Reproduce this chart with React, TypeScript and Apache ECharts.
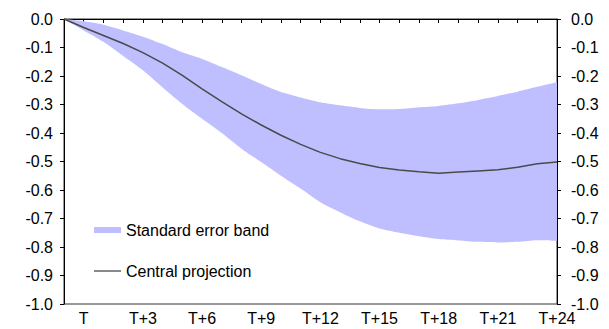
import React, { useEffect, useRef } from "react";
import * as echarts from "echarts";

const categories = [
  "T-1", "T", "T+1", "T+2", "T+3", "T+4", "T+5", "T+6", "T+7", "T+8", "T+9",
  "T+10", "T+11", "T+12", "T+13", "T+14", "T+15", "T+16", "T+17", "T+18",
  "T+19", "T+20", "T+21", "T+22", "T+23", "T+24",
];

const central = [
  0, -0.03, -0.058, -0.086, -0.118, -0.155, -0.198, -0.245, -0.29, -0.333,
  -0.372, -0.408, -0.44, -0.468, -0.49, -0.507, -0.521, -0.53, -0.536, -0.541,
  -0.537, -0.533, -0.529, -0.52, -0.508, -0.502,
];

const upper = [
  0, -0.008, -0.02, -0.04, -0.062, -0.088, -0.117, -0.14, -0.168, -0.197,
  -0.228, -0.256, -0.275, -0.292, -0.303, -0.312, -0.317, -0.316, -0.31,
  -0.305, -0.296, -0.284, -0.27, -0.255, -0.238, -0.222,
];

const lower = [
  0, -0.04, -0.08, -0.13, -0.18, -0.24, -0.298, -0.35, -0.4, -0.455, -0.502,
  -0.55, -0.595, -0.643, -0.678, -0.71, -0.735, -0.75, -0.762, -0.772, -0.777,
  -0.782, -0.784, -0.782, -0.776, -0.778,
];

const FONT = "'Liberation Sans', Arial, sans-serif";
const BAND = "#BFBFFF";
const LINE = "#4a4a4a";

export default function App() {
  const ref = useRef<HTMLDivElement>(null);
  useEffect(() => {
    if (!ref.current) return;
    const chart = echarts.init(ref.current, undefined, { renderer: "svg" });
    const bandDiff = lower.map((v, i) => +(v - upper[i]).toFixed(4));
    const yLabel = (v: number) => {
      const r = Math.round(v * 10) / 10;
      return r === 0 ? "0.0" : r.toFixed(1);
    };
    const yAxisBase = {
      type: "value" as const,
      min: -1,
      max: 0,
      interval: 0.1,
      axisLine: { show: true, lineStyle: { color: "#000", width: 1 } },
      axisTick: { show: true, inside: false, length: 4, lineStyle: { color: "#000" } },
      splitLine: { show: false },
      axisLabel: {
        color: "#000",
        fontSize: 16,
        fontFamily: FONT,
        formatter: yLabel,
      },
    };
    chart.setOption({
      animation: false,
      backgroundColor: "#fff",
      grid: {
        left: 64,
        right: 52,
        top: 19,
        bottom: 25,
        show: true,
        borderColor: "#333",
        borderWidth: 1,
        backgroundColor: "transparent",
      },
      legend: {
        orient: "vertical",
        left: 89,
        top: 217,
        itemWidth: 27,
        itemHeight: 6,
        itemGap: 25,
        textStyle: { color: "#000", fontSize: 16, fontFamily: FONT },
        data: [
          { name: "Standard error band", icon: "rect", itemStyle: { color: BAND } },
          {
            name: "Central projection",
            icon: "path://M0,0H27V1.3H0Z",
            itemStyle: { color: LINE },
          },
        ],
      },
      xAxis: {
        type: "category",
        data: categories,
        boundaryGap: false,
        axisLine: { show: true, lineStyle: { color: "#000", width: 1 } },
        axisTick: {
          show: true,
          inside: false,
          length: 4,
          interval: 0,
          lineStyle: { color: "#000" },
        },
        axisLabel: {
          color: "#000",
          fontSize: 16,
          fontFamily: FONT,
          margin: 6,
          interval: (index: number) => index % 3 === 1,
        },
        splitLine: { show: false },
      },
      yAxis: [
        { ...yAxisBase, position: "left", axisLabel: { ...yAxisBase.axisLabel, margin: 11 } },
        { ...yAxisBase, position: "right", axisLabel: { ...yAxisBase.axisLabel, margin: 14 } },
      ],
      series: [
        {
          name: "upperBase",
          type: "line",
          data: upper,
          stack: "band",
          stackStrategy: "all",
          symbol: "none",
          smooth: 0.25,
          silent: true,
          lineStyle: { opacity: 0, width: 0 },
          z: 1,
        },
        {
          name: "Standard error band",
          type: "line",
          data: bandDiff,
          stack: "band",
          stackStrategy: "all",
          symbol: "none",
          smooth: 0.25,
          silent: true,
          color: BAND,
          itemStyle: { color: BAND },
          lineStyle: { opacity: 0, width: 0 },
          areaStyle: { color: BAND, opacity: 1 },
          z: 1,
        },
        {
          name: "Central projection",
          type: "line",
          data: central,
          symbol: "none",
          color: LINE,
          lineStyle: { color: LINE, width: 1.5 },
          z: 3,
        },
      ],
    });
    return () => chart.dispose();
  }, []);
  return (
    <div
      ref={ref}
      style={{ position: "fixed", left: 0, top: 0, width: 609, height: 329 }}
    />
  );
}
